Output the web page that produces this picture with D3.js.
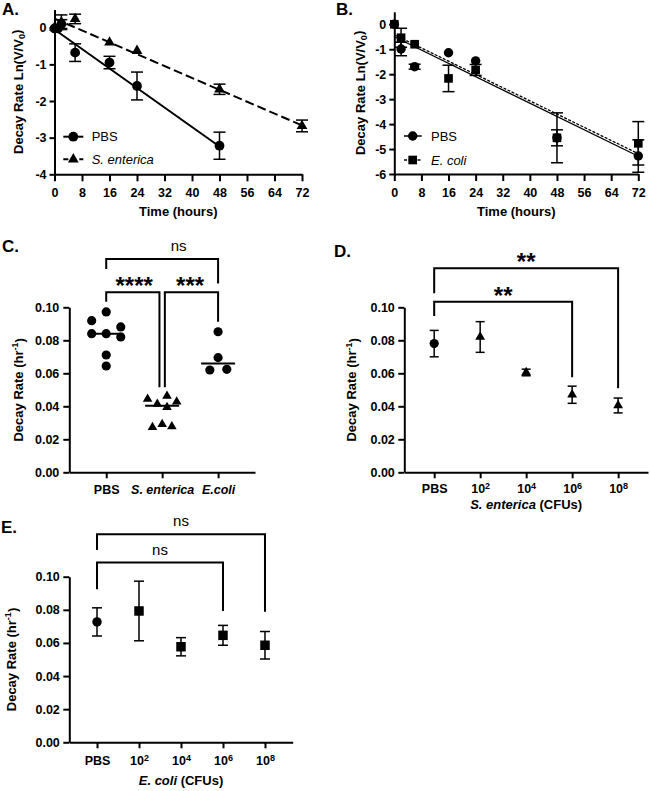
<!DOCTYPE html>
<html><head><meta charset="utf-8">
<script src="https://cdn.jsdelivr.net/npm/d3@7"></script>
<style>body{margin:0;background:#fff}svg{display:block;font-family:"Liberation Sans",Arial,Helvetica,sans-serif}</style>
</head><body><svg id="c" width="650" height="791"></svg>
<script>
// ---------------- DATA ----------------
const timeTicks = [0, 8, 16, 24, 32, 40, 48, 56, 64, 72];
// Panel A
const aTicksY = [0, -1, -2, -3, -4];
const aTimePBS = [0, 1, 2, 6, 16, 24, 48];
const aValPBS  = [-0.02, -0.02, 0.1, -0.68, -0.95, -1.59, -3.22];
const aErrPBS  = [0, 0, 0.12, 0.24, 0.17, 0.38, 0.37];
const aTimeSent = [0, 2, 6, 16, 24, 48, 72];
const aValSent  = [0, 0.15, 0.24, -0.40, -0.63, -1.68, -2.68];
const aErrSent  = [0, 0.2, 0.13, 0, 0, 0.14, 0.16];
const aFitPBS  = [-0.05, -0.0665];   // intercept, slope
const aFitSent = [0.25, -0.0405];
// Panel B
const bTicksY = [0, -1, -2, -3, -4, -5, -6];
const bTime = [0, 2, 6, 16, 24, 48, 72];
const bValPBS  = [0, -0.99, -1.70, -1.14, -1.47, -4.55, -5.28];
const bErrPBS  = [0, 0.27, 0.10, 0, 0, 0.32, 0.65];
const bValEcoli = [0, -0.54, -0.80, -2.17, -1.83, -4.55, -4.77];
const bErrEcoli = [0, 0.38, 0, 0.53, 0.22, 1.00, 0.87];
const bFitPBS   = [-0.50, -0.0665];
const bFitEcoli = [-0.42, -0.0662];
// Panel C
const rateTicks = [0, 0.02, 0.04, 0.06, 0.08, 0.10];
const cCats = ["PBS", "S. enterica", "E.coli"];
const cPBS   = [0.0972, 0.0919, 0.0881, 0.0840, 0.0840, 0.0820, 0.0711, 0.0644];
const cSent  = [0.0444, 0.0414, 0.0462, 0.0428, 0.0394, 0.0273, 0.0291, 0.0277];
const cEcoli = [0.0852, 0.0695, 0.0620, 0.0624];
// scatter slots (jitter columns)
const cSlotPBS   = [0, -1.5, 1.5, -1.5, 0, 1.5, 0, 0];
const cSlotSent  = [-1.5, -0.5, 0.5, 1.5, 0.5, -1, 0, 1];
const cSlotEcoli = [0, 0, -0.85, 0.9];
const cBrackets = [
  {a: "PBS", b: "E.coli", top: 0.1293, endA: 0.1232, endB: 0.1145, text: "ns"},
  {a: "PBS", b: "S. enterica", top: 0.1091, endA: 0.1034, endB: 0.0515, text: "****"},
  {a: "S. enterica", b: "E.coli", top: 0.1091, endA: 0.0515, endB: 0.0913, text: "***"}
];
// Panel D
const doseCats = ["PBS", "10^2", "10^4", "10^6", "10^8"];
const dVal = [0.0780, 0.0820, 0.0605, 0.0470, 0.0405];
const dErr = [0.0080, 0.0093, 0.0020, 0.0052, 0.0045];
const dBrackets = [
  {a: "PBS", b: "10^8", top: 0.1236, endA: 0.1085, endB: 0.0509, text: "**"},
  {a: "PBS", b: "10^6", top: 0.1034, endA: 0.0947, endB: 0.0576, text: "**"}
];
// Panel E
const eVal = [0.0727, 0.0793, 0.0577, 0.0646, 0.0586];
const eErr = [0.0085, 0.0180, 0.0055, 0.0060, 0.0083];
const eBrackets = [
  {a: "PBS", b: "10^8", top: 0.1256, endA: 0.1161, endB: 0.0789, text: "ns"},
  {a: "PBS", b: "10^6", top: 0.1085, endA: 0.0924, endB: 0.0793, text: "ns"}
];

// ---------------- HELPERS ----------------
const svg = d3.select("#c");
const TICKFS = 12.5, TITLEFS = 13;

function styleAxis(g) {
  g.attr("font-family", null).attr("font-size", null);
  g.select(".domain").attr("stroke", "#000").attr("stroke-width", 2);
  g.selectAll(".tick line").attr("stroke", "#000").attr("stroke-width", 2);
  g.selectAll(".tick text").attr("font-size", TICKFS).attr("font-weight", "bold").attr("fill", "#000");
}
function supLabels(g) {
  g.selectAll(".tick text").each(function(d) {
    const t = d3.select(this);
    if (typeof d === "string" && d.startsWith("10^")) {
      t.text(null);
      t.append("tspan").text("10");
      t.append("tspan").attr("dy", "-0.45em").attr("font-size", "0.72em").text(d.slice(3));
    }
  });
}
function yTitle(x, y, parts) {
  const t = svg.append("text").attr("transform", `translate(${x},${y}) rotate(-90)`)
    .attr("text-anchor", "middle").attr("font-weight", "bold").attr("font-size", TITLEFS);
  parts(t);
}
function rateTitle(t) {
  t.append("tspan").text("Decay Rate (hr");
  t.append("tspan").attr("dy", "-0.45em").attr("font-size", "0.7em").text("-1");
  t.append("tspan").attr("dy", "0.45em").text(")");
}
function lnTitle(t) {
  t.append("tspan").text("Decay Rate Ln(V/V");
  t.append("tspan").attr("dy", "0.3em").attr("font-size", "0.7em").text("0");
  t.append("tspan").attr("dy", "-0.3em").text(")");
}
function errBar(g, x, y, v, e, cap) {
  if (e <= 0) return;
  g.append("line").attr("x1", x).attr("x2", x).attr("y1", y(v - e)).attr("y2", y(v + e))
    .attr("stroke", "#000").attr("stroke-width", 1.5);
  [v - e, v + e].forEach(w => g.append("line").attr("x1", x - cap / 2).attr("x2", x + cap / 2)
    .attr("y1", y(w)).attr("y2", y(w)).attr("stroke", "#000").attr("stroke-width", 1.5));
}
function marker(g, type, x, y, size) {
  g.append("path").attr("d", d3.symbol().type(type).size(size)())
    .attr("transform", `translate(${x},${y})`).attr("fill", "#000");
}
function panelLabel(x, y, s) {
  svg.append("text").attr("x", x).attr("y", y).attr("font-weight", "bold").attr("font-size", 17).text(s);
}
function brackets(list, xs, ys, nsShift) {
  list.forEach(br => {
    let xa = xs(br.a), xb = xs(br.b);
    if (list.some(o => o !== br && o.top === br.top && o.b === br.a)) xa += 2.7;
    if (list.some(o => o !== br && o.top === br.top && o.a === br.b)) xb -= 2.7;
    const p = d3.path();
    p.moveTo(xa, ys(br.endA)); p.lineTo(xa, ys(br.top)); p.lineTo(xb, ys(br.top)); p.lineTo(xb, ys(br.endB));
    svg.append("path").attr("d", p.toString()).attr("fill", "none").attr("stroke", "#000").attr("stroke-width", 2);
    const mid = (xs(br.a) + xs(br.b)) / 2;
    if (br.text.includes("*")) {
      svg.append("text").attr("x", mid).attr("y", ys(br.top) + 2).attr("text-anchor", "middle")
        .attr("font-weight", "bold").attr("font-size", 24).text(br.text);
    } else {
      svg.append("text").attr("x", mid + (nsShift && br.a === "PBS" && br.b === "E.coli" ? nsShift : 0))
        .attr("y", ys(br.top) - 8).attr("text-anchor", "middle").attr("font-size", 15).text(br.text);
    }
  });
}

// ---------------- PANEL A ----------------
(function() {
  const x = d3.scaleLinear().domain([0, 72]).range([54.5, 302]);
  const y = d3.scaleLinear().domain([-4, 0.5]).range([174.3, 9.4]);
  svg.append("g").attr("transform", `translate(0,${y(-4)})`)
    .call(d3.axisBottom(x).tickValues(timeTicks).tickSize(7).tickPadding(7).tickSizeOuter(0)).call(styleAxis);
  svg.append("g").attr("transform", `translate(${x(0)},0)`)
    .call(d3.axisLeft(y).tickValues(aTicksY).tickSize(5).tickPadding(3).tickFormat(d => String(d)).tickSizeOuter(0)).call(styleAxis);
  const g = svg.append("g");
  const line = d3.line().x(d => x(d[0])).y(d => y(d[1]));
  g.append("path").attr("d", line([[0, aFitPBS[0]], [48, aFitPBS[0] + 48 * aFitPBS[1]]]))
    .attr("stroke", "#000").attr("stroke-width", 2).attr("fill", "none");
  g.append("path").attr("d", line([[0, aFitSent[0]], [72, aFitSent[0] + 72 * aFitSent[1]]]))
    .attr("stroke", "#000").attr("stroke-width", 2).attr("fill", "none").attr("stroke-dasharray", "9,4");
  aTimePBS.forEach((t, i) => errBar(g, x(t), y, aValPBS[i], aErrPBS[i], 12));
  aTimeSent.forEach((t, i) => errBar(g, x(t), y, aValSent[i], aErrSent[i], 12));
  aTimeSent.forEach((t, i) => marker(g, d3.symbolTriangle, x(t), y(aValSent[i]), 50));
  aTimePBS.forEach((t, i) => marker(g, d3.symbolCircle, x(t), y(aValPBS[i]), 75));
  // legend
  const lg = svg.append("g");
  [[136.7, "PBS", d3.symbolCircle, null, "normal"], [159.3, "S. enterica", d3.symbolTriangle, "5,3", "italic"]].forEach(r => {
    lg.append("line").attr("x1", 63.3).attr("x2", 83.3).attr("y1", r[0]).attr("y2", r[0])
      .attr("stroke", "#000").attr("stroke-width", 2).attr("stroke-dasharray", r[3]);
    marker(lg, r[2], 73.3, r[0], r[2] === d3.symbolCircle ? 75 : 50);
    lg.append("text").attr("x", 91.7).attr("y", r[0] + 4.6).attr("font-size", 13).attr("font-style", r[4]).text(r[1]);
  });
  svg.append("text").attr("x", (x(0) + x(72)) / 2).attr("y", 216).attr("text-anchor", "middle")
    .attr("font-weight", "bold").attr("font-size", TITLEFS).text("Time (hours)");
  yTitle(22.5, (y(-4) + y(0.5)) / 2, lnTitle);
  panelLabel(2, 15, "A.");
})();

// ---------------- PANEL B ----------------
(function() {
  const x = d3.scaleLinear().domain([0, 72]).range([394.3, 638.3]);
  const y = d3.scaleLinear().domain([-6, 0.5]).range([174, 11.8]);
  svg.append("g").attr("transform", `translate(0,${y(-6)})`)
    .call(d3.axisBottom(x).tickValues(timeTicks).tickSize(7).tickPadding(7).tickSizeOuter(0)).call(styleAxis);
  svg.append("g").attr("transform", `translate(${x(0)},0)`)
    .call(d3.axisLeft(y).tickValues(bTicksY).tickSize(5).tickPadding(3).tickFormat(d => String(d)).tickSizeOuter(0)).call(styleAxis);
  const g = svg.append("g");
  const line = d3.line().x(d => x(d[0])).y(d => y(d[1]));
  g.append("path").attr("d", line([[0, bFitPBS[0]], [72, bFitPBS[0] + 72 * bFitPBS[1]]]))
    .attr("stroke", "#000").attr("stroke-width", 1.3).attr("fill", "none");
  g.append("path").attr("d", line([[0, bFitEcoli[0]], [72, bFitEcoli[0] + 72 * bFitEcoli[1]]]))
    .attr("stroke", "#000").attr("stroke-width", 1.3).attr("fill", "none").attr("stroke-dasharray", "3,1.5");
  bTime.forEach((t, i) => errBar(g, x(t), y, bValPBS[i], bErrPBS[i], 12));
  bTime.forEach((t, i) => errBar(g, x(t), y, bValEcoli[i], bErrEcoli[i], 12));
  bTime.forEach((t, i) => marker(g, d3.symbolCircle, x(t), y(bValPBS[i]), 70));
  bTime.forEach((t, i) => marker(g, d3.symbolSquare, x(t), y(bValEcoli[i]), 75));
  const lg = svg.append("g");
  [[136, "PBS", d3.symbolCircle, null, "normal"], [160, "E. coli", d3.symbolSquare, "3,1.5", "italic"]].forEach(r => {
    lg.append("line").attr("x1", 404).attr("x2", 421.7).attr("y1", r[0]).attr("y2", r[0])
      .attr("stroke", "#000").attr("stroke-width", 1.5).attr("stroke-dasharray", r[3]);
    marker(lg, r[2], 412.7, r[0], r[2] === d3.symbolCircle ? 70 : 75);
    lg.append("text").attr("x", 431).attr("y", r[0] + 4.6).attr("font-size", 13).attr("font-style", r[4]).text(r[1]);
  });
  svg.append("text").attr("x", (x(0) + x(72)) / 2).attr("y", 216).attr("text-anchor", "middle")
    .attr("font-weight", "bold").attr("font-size", TITLEFS).text("Time (hours)");
  yTitle(364.5, (y(-6) + y(0.5)) / 2, lnTitle);
  panelLabel(336, 15, "B.");
})();

// ---------------- PANEL C ----------------
(function() {
  const x = d3.scalePoint().domain(cCats).range([69.3, 255]).padding(0.66);
  const y = d3.scaleLinear().domain([0, 0.1]).range([472.3, 307.3]);
  const gx = svg.append("g").attr("transform", `translate(0,${y(0)})`)
    .call(d3.axisBottom(x).tickSize(6).tickPadding(7).tickSizeOuter(0)).call(styleAxis);
  gx.selectAll(".tick text").attr("font-style", d => d === "PBS" ? "normal" : "italic");
  svg.append("g").attr("transform", `translate(69.3,0)`)
    .call(d3.axisLeft(y).tickValues(rateTicks).tickSize(6).tickPadding(4).tickFormat(d3.format(".2f")).tickSizeOuter(0)).call(styleAxis);
  const g = svg.append("g");
  const slot = 9.7;
  const groups = [[cPBS, cSlotPBS, d3.symbolCircle, 66], [cSent, cSlotSent, d3.symbolTriangle, 40], [cEcoli, cSlotEcoli, d3.symbolCircle, 66]];
  groups.forEach((grp, ci) => {
    const cx = x(cCats[ci]);
    const med = d3.median(grp[0]);
    g.append("line").attr("x1", cx - 17).attr("x2", cx + 17).attr("y1", y(med)).attr("y2", y(med))
      .attr("stroke", "#000").attr("stroke-width", 2);
    grp[0].forEach((v, i) => marker(g, grp[2], cx + grp[1][i] * slot, y(v), grp[3]));
  });
  brackets(cBrackets, x, y, 16.5);
  yTitle(22.5, (y(0) + y(0.1)) / 2, rateTitle);
  panelLabel(2, 252, "C.");
})();

// ---------------- PANEL D ----------------
(function() {
  const x = d3.scalePoint().domain(doseCats).range([404.3, 648]).padding(0.65);
  const y = d3.scaleLinear().domain([0, 0.1]).range([472.3, 307.3]);
  svg.append("g").attr("transform", `translate(0,${y(0)})`)
    .call(d3.axisBottom(x).tickSize(6).tickPadding(5.5).tickSizeOuter(0)).call(styleAxis).call(supLabels);
  svg.append("g").attr("transform", `translate(404.3,0)`)
    .call(d3.axisLeft(y).tickValues(rateTicks).tickSize(6).tickPadding(3.5).tickFormat(d3.format(".2f")).tickSizeOuter(0)).call(styleAxis);
  const g = svg.append("g");
  doseCats.forEach((c, i) => errBar(g, x(c), y, dVal[i], dErr[i], 9));
  doseCats.forEach((c, i) => marker(g, i === 0 ? d3.symbolCircle : d3.symbolTriangle, x(c), y(dVal[i]), i === 0 ? 66 : 42));
  brackets(dBrackets, x, y, 0);
  const t = svg.append("text").attr("x", (x("PBS") + x("10^8")) / 2).attr("y", 509).attr("text-anchor", "middle")
    .attr("font-weight", "bold").attr("font-size", TITLEFS);
  t.append("tspan").attr("font-style", "italic").text("S. enterica");
  t.append("tspan").text(" (CFUs)");
  yTitle(356, (y(0) + y(0.1)) / 2, rateTitle);
  panelLabel(334, 257, "D.");
})();

// ---------------- PANEL E ----------------
(function() {
  const x = d3.scalePoint().domain(doseCats).range([69.3, 292.7]).padding(0.66);
  const y = d3.scaleLinear().domain([0, 0.1]).range([742.3, 576.7]);
  svg.append("g").attr("transform", `translate(0,${y(0)})`)
    .call(d3.axisBottom(x).tickSize(6).tickPadding(8).tickSizeOuter(0)).call(styleAxis).call(supLabels);
  svg.append("g").attr("transform", `translate(69.3,0)`)
    .call(d3.axisLeft(y).tickValues(rateTicks).tickSize(6).tickPadding(3.5).tickFormat(d3.format(".2f")).tickSizeOuter(0)).call(styleAxis);
  const g = svg.append("g");
  doseCats.forEach((c, i) => errBar(g, x(c), y, eVal[i], eErr[i], 10));
  doseCats.forEach((c, i) => marker(g, i === 0 ? d3.symbolCircle : d3.symbolSquare, x(c), y(eVal[i]), i === 0 ? 70 : 90));
  brackets(eBrackets, x, y, 0);
  const t = svg.append("text").attr("x", (x("PBS") + x("10^8")) / 2).attr("y", 785).attr("text-anchor", "middle")
    .attr("font-weight", "bold").attr("font-size", TITLEFS);
  t.append("tspan").attr("font-style", "italic").text("E. coli");
  t.append("tspan").text(" (CFUs)");
  yTitle(15.5, (y(0) + y(0.1)) / 2, rateTitle);
  panelLabel(1, 533, "E.");
})();
</script>
</body></html>
